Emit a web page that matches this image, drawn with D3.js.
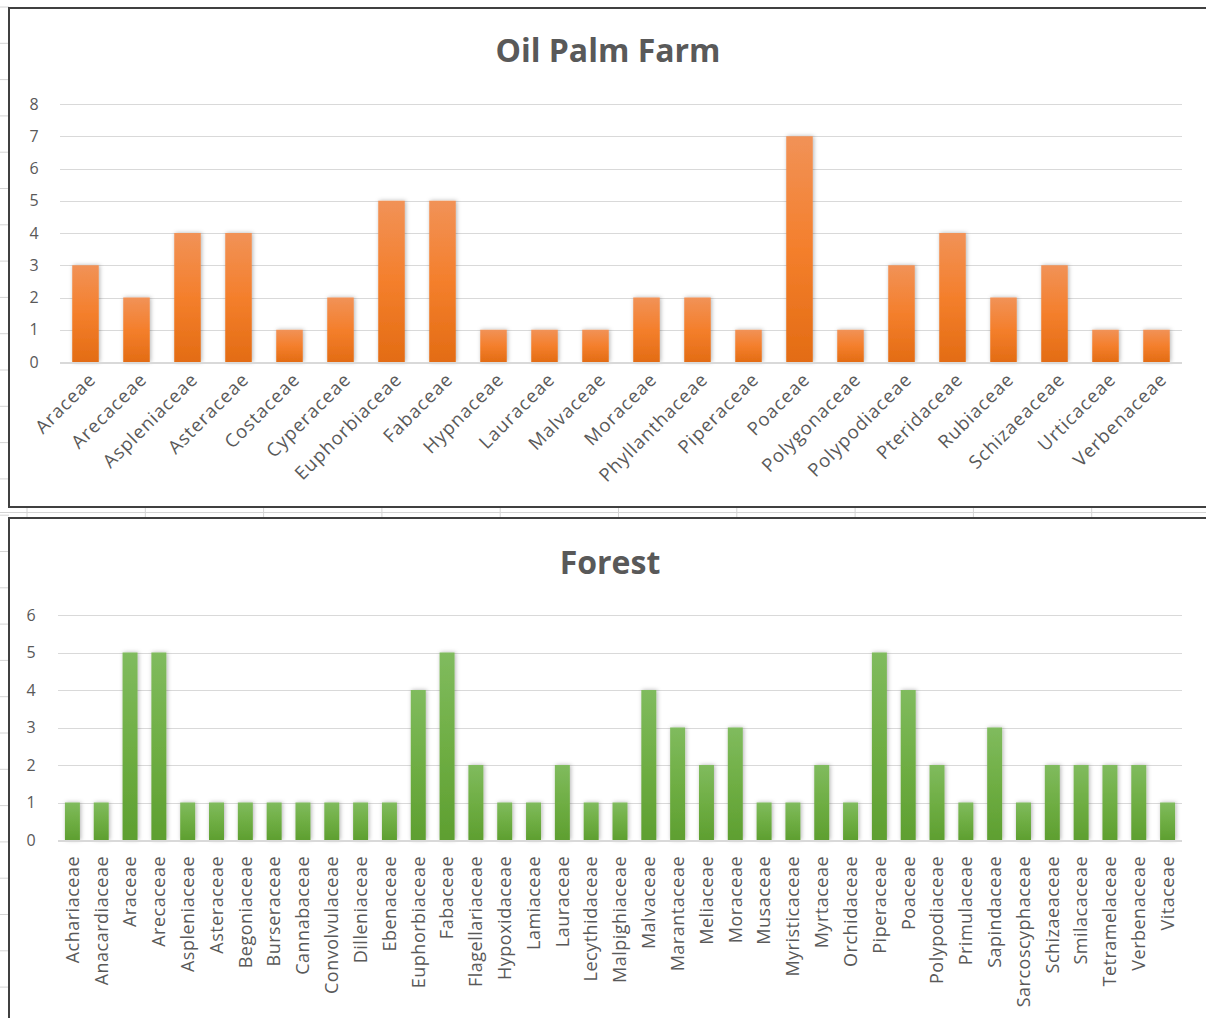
<!DOCTYPE html>
<html>
<head>
<meta charset="utf-8">
<script src="https://cdn.jsdelivr.net/npm/d3@7"></script>
<style>
  body { margin: 0; background: #fff; }
  svg { display: block; font-family: "Open Sans", sans-serif; }
</style>
</head>
<body>
<script>
// chart data
var farmFamilies = ["Araceae", "Arecaceae", "Aspleniaceae", "Asteraceae", "Costaceae", "Cyperaceae",
  "Euphorbiaceae", "Fabaceae", "Hypnaceae", "Lauraceae", "Malvaceae", "Moraceae", "Phyllanthaceae",
  "Piperaceae", "Poaceae", "Polygonaceae", "Polypodiaceae", "Pteridaceae", "Rubiaceae", "Schizaeaceae",
  "Urticaceae", "Verbenaceae"];
var farmCounts = [3, 2, 4, 4, 1, 2, 5, 5, 1, 1, 1, 2, 2, 1, 7, 1, 3, 4, 2, 3, 1, 1];
var farmTicks = [0, 1, 2, 3, 4, 5, 6, 7, 8];

var forestFamilies = ["Achariaceae", "Anacardiaceae", "Araceae", "Arecaceae", "Aspleniaceae", "Asteraceae",
  "Begoniaceae", "Burseraceae", "Cannabaceae", "Convolvulaceae", "Dilleniaceae", "Ebenaceae",
  "Euphorbiaceae", "Fabaceae", "Flagellariaceae", "Hypoxidaceae", "Lamiaceae", "Lauraceae",
  "Lecythidaceae", "Malpighiaceae", "Malvaceae", "Marantaceae", "Meliaceae", "Moraceae", "Musaceae",
  "Myristicaceae", "Myrtaceae", "Orchidaceae", "Piperaceae", "Poaceae", "Polypodiaceae", "Primulaceae",
  "Sapindaceae", "Sarcoscyphaceae", "Schizaeaceae", "Smilacaceae", "Tetramelaceae", "Verbenaceae",
  "Vitaceae"];
var forestCounts = [1, 1, 5, 5, 1, 1, 1, 1, 1, 1, 1, 1, 4, 5, 2, 1, 1, 2, 1, 1, 4, 3, 2, 3, 1, 1, 2, 1,
  5, 4, 2, 1, 3, 1, 2, 2, 2, 2, 1];
var forestTicks = [0, 1, 2, 3, 4, 5, 6];

var W = 1206, H = 1018;
var svg = d3.select("body").append("svg").attr("width", W).attr("height", H);

var defs = svg.append("defs");
function grad(id, top, mid, bottom) {
  var g = defs.append("linearGradient").attr("id", id)
    .attr("x1", 0).attr("y1", 0).attr("x2", 0).attr("y2", 1);
  g.append("stop").attr("offset", "0%").attr("stop-color", top);
  g.append("stop").attr("offset", "50%").attr("stop-color", mid);
  g.append("stop").attr("offset", "100%").attr("stop-color", bottom);
}
grad("orange", "#f19257", "#f47f2c", "#e36c14");
grad("green", "#80bb5e", "#6fae44", "#5e9f30");
defs.append("filter").attr("id", "shadow")
  .attr("x", "-50%").attr("y", "-20%").attr("width", "200%").attr("height", "140%")
  .append("feDropShadow").attr("dx", 1).attr("dy", 0).attr("stdDeviation", 2)
  .attr("flood-color", "#000").attr("flood-opacity", 0.3);

// spreadsheet background bits (row ticks on the left, column lines between charts)
var bg = svg.append("g");
bg.selectAll("line.row").data(d3.range(0, 28)).join("line")
  .attr("x1", 0).attr("x2", 9)
  .attr("y1", function(d) { return 7 + d * 36.3; }).attr("y2", function(d) { return 7 + d * 36.3; })
  .attr("stroke", "#d4d4d4");
bg.append("line").attr("x1", 0).attr("x2", W).attr("y1", 512.5).attr("y2", 512.5).attr("stroke", "#d4d4d4");
bg.selectAll("line.col").data(d3.range(0, 11)).join("line")
  .attr("x1", function(d) { return 27 + d * 118.3; }).attr("x2", function(d) { return 27 + d * 118.3; })
  .attr("y1", 508).attr("y2", 518).attr("stroke", "#d4d4d4");

function drawChart(opt) {
  var g = svg.append("g");
  g.append("rect").attr("x", opt.box[0]).attr("y", opt.box[1])
    .attr("width", opt.box[2]).attr("height", opt.box[3])
    .attr("fill", "#fff").attr("stroke", "#404040").attr("stroke-width", 2);

  g.append("text").attr("x", opt.titleX).attr("y", opt.titleY)
    .attr("text-anchor", "middle").attr("font-size", 32).attr("font-weight", "bold")
    .attr("fill", "#595959").text(opt.title);

  var x = d3.scaleBand().domain(opt.cats).range([opt.left, opt.right]).paddingInner(0.48).paddingOuter(0.24);
  var y = d3.scaleLinear().domain([0, d3.max(opt.ticks)]).range([opt.bottom, opt.top]);

  // gridlines
  g.append("g").selectAll("line").data(opt.ticks.filter(function(t) { return t > 0; })).join("line")
    .attr("x1", opt.left).attr("x2", opt.right)
    .attr("y1", function(d) { return Math.round(y(d)) + 0.5; })
    .attr("y2", function(d) { return Math.round(y(d)) + 0.5; })
    .attr("stroke", "#d9d9d9").attr("stroke-width", 1);

  // y tick labels
  g.append("g").selectAll("text").data(opt.ticks).join("text")
    .attr("x", opt.tickX).attr("y", function(d) { return y(d); })
    .attr("dy", "0.35em").attr("text-anchor", "middle")
    .attr("font-size", 16).attr("fill", "#595959").text(function(d) { return d; });

  // bars
  g.append("g").selectAll("rect").data(opt.values).join("rect")
    .attr("x", function(d, i) { return x(opt.cats[i]); })
    .attr("y", function(d) { return y(d); })
    .attr("width", x.bandwidth())
    .attr("height", function(d) { return y(0) - y(d); })
    .attr("fill", "url(#" + opt.fill + ")")
    .attr("filter", "url(#shadow)");

  // baseline
  g.append("line").attr("x1", opt.left).attr("x2", opt.right)
    .attr("y1", y(0) + 1).attr("y2", y(0) + 1)
    .attr("stroke", "#d9d9d9").attr("stroke-width", 2);

  // category labels
  g.append("g").selectAll("text").data(opt.cats).join("text")
    .attr("transform", function(d) {
      return "translate(" + (x(d) + x.bandwidth() / 2 + opt.labelDx) + "," + opt.labelY + ") rotate(" + opt.rotate + ")";
    })
    .attr("text-anchor", "end").attr("dy", "0.35em")
    .attr("font-size", opt.labelSize).attr("letter-spacing", opt.spacing)
    .attr("fill", "#595959").text(function(d) { return d; });
}

drawChart({
  box: [9, 8, 1210, 499], title: "Oil Palm Farm", titleX: 608, titleY: 62,
  cats: farmFamilies, values: farmCounts, ticks: farmTicks, fill: "orange",
  left: 60, right: 1182, top: 104, bottom: 362, tickX: 34,
  labelY: 376, labelDx: 7, rotate: -45, labelSize: 18.5, spacing: 1
});

drawChart({
  box: [9, 518, 1210, 520], title: "Forest", titleX: 610, titleY: 574,
  cats: forestFamilies, values: forestCounts, ticks: forestTicks, fill: "green",
  left: 58, right: 1182, top: 615, bottom: 840, tickX: 31,
  labelY: 856, labelDx: 0, rotate: -90, labelSize: 18, spacing: 0.5
});
</script>
</body>
</html>
